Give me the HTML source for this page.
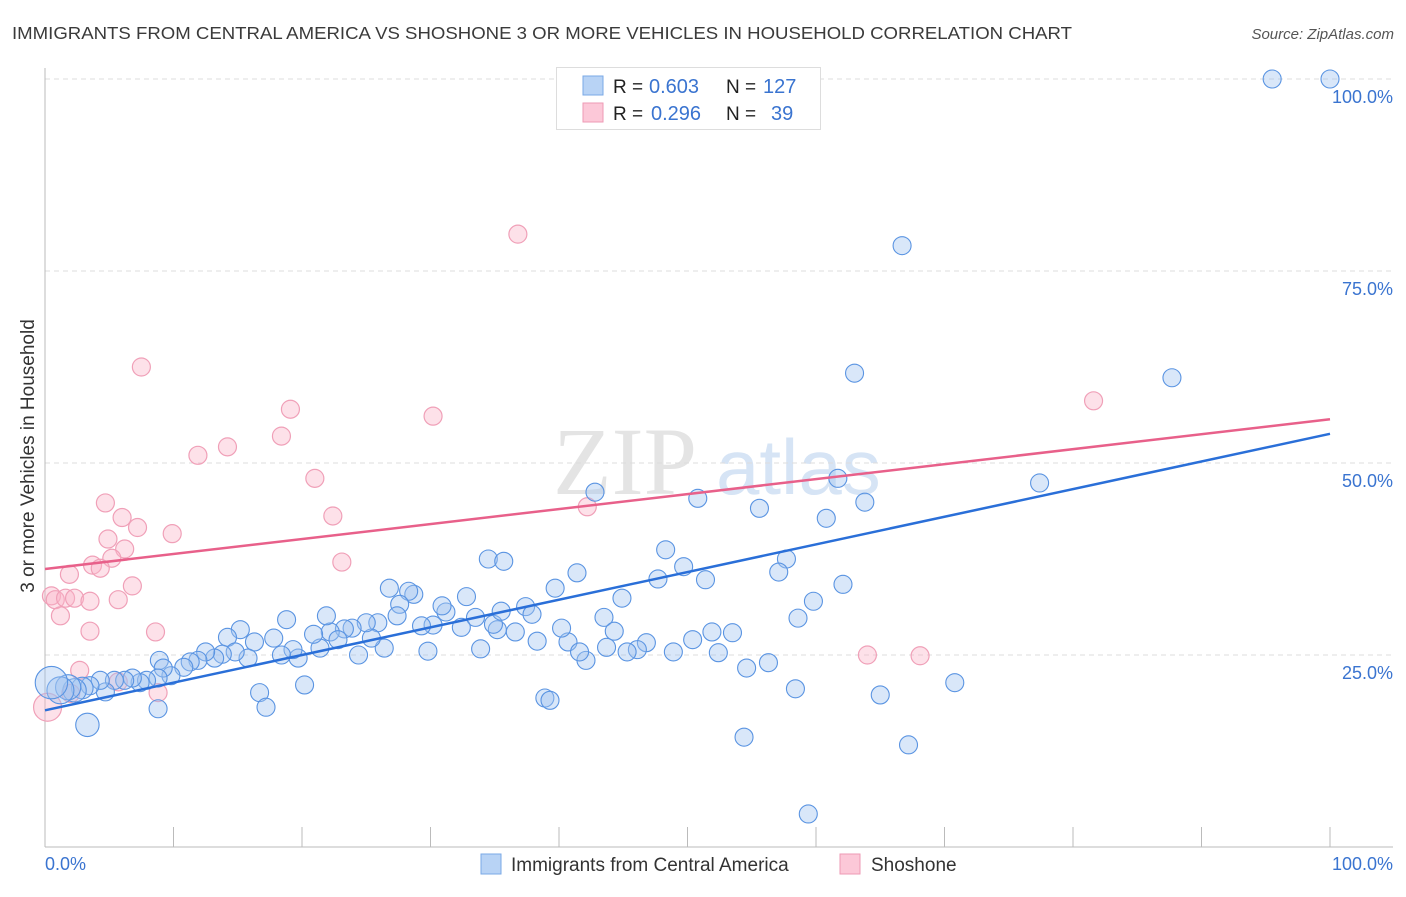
<!DOCTYPE html>
<html><head><meta charset="utf-8"><style>
body{margin:0;background:#fff;font-family:"Liberation Sans",sans-serif;}
svg text{font-family:"Liberation Sans",sans-serif;}
</style></head><body>
<svg id="chart" width="1406" height="892" xmlns="http://www.w3.org/2000/svg">
<text x="12" y="39" font-size="17.5" fill="#3a3a3a" textLength="1060" lengthAdjust="spacingAndGlyphs">IMMIGRANTS FROM CENTRAL AMERICA VS SHOSHONE 3 OR MORE VEHICLES IN HOUSEHOLD CORRELATION CHART</text>
<text x="1394" y="39" font-size="15" fill="#555" text-anchor="end" font-style="italic">Source: ZipAtlas.com</text>
<g>
<text x="553" y="494" font-size="96" fill="#e4e4e4" style="font-family:'Liberation Serif',serif">ZIP</text>
<text x="716" y="494" font-size="78" fill="#d6e4f5">atlas</text>
</g>
<g id="grid"></g>
<g id="axes"></g>
<g id="pts"></g>
<g id="lines"></g>
<text x="34" y="456" font-size="19" fill="#333" text-anchor="middle" transform="rotate(-90 34 456)">3 or more Vehicles in Household</text>
<g>
<rect x="556.5" y="67.5" width="264" height="62" fill="#fff" stroke="#ddd"/>
<rect x="583" y="76" width="20" height="19" fill="#b8d3f5" stroke="#7aa8e6"/>
<rect x="583" y="103" width="20" height="19" fill="#fcc8d8" stroke="#ee9ab4"/>
<text x="613" y="93" font-size="19" fill="#222">R =</text>
<text x="649" y="93" font-size="20" fill="#3a74d0">0.603</text>
<text x="726" y="93" font-size="19" fill="#222">N =</text>
<text x="763" y="93" font-size="20" fill="#3a74d0">127</text>
<text x="613" y="120" font-size="19" fill="#222">R =</text>
<text x="651" y="120" font-size="20" fill="#3a74d0">0.296</text>
<text x="726" y="120" font-size="19" fill="#222">N =</text>
<text x="771" y="120" font-size="20" fill="#3a74d0">39</text>
</g>
<g>
<rect x="481" y="854" width="20" height="20" fill="#b8d3f5" stroke="#7aa8e6"/>
<text x="511" y="871" font-size="19" fill="#333">Immigrants from Central America</text>
<rect x="840" y="854" width="20" height="20" fill="#fcc8d8" stroke="#ee9ab4"/>
<text x="871" y="871" font-size="19" fill="#333">Shoshone</text>
</g>
</svg>
<script>
const yTicks=[25,50,75,100];
const yTickLabels=["25.0%","50.0%","75.0%","100.0%"];
const blueX=[95.5,100,66.7,63.0,87.7,77.4,61.7,63.8,60.8,55.6,50.8,42.8,34.5,35.7,48.3,49.7,57.7,57.1,62.1,59.8,58.6,41.4,39.7,47.7,51.4,44.9,43.5,44.3,46.8,46.1,45.3,43.7,40.7,42.1,41.6,40.2,38.3,37.4,37.9,35.2,36.6,33.9,34.9,33.5,32.8,32.4,31.2,30.9,30.2,29.8,29.3,28.7,28.3,27.6,26.8,27.4,25.9,26.4,25.4,25.0,23.9,23.3,22.2,21.9,24.4,22.8,21.4,20.9,18.8,17.8,19.7,19.3,18.4,20.2,16.7,17.2,16.3,15.2,14.2,15.8,14.8,13.8,13.2,12.5,11.9,11.3,10.8,9.8,8.9,9.2,8.8,7.9,8.8,7.4,6.8,6.2,5.4,4.7,4.3,3.5,2.9,2.3,1.8,1.2,0.5,3.3,38.9,39.3,50.4,51.9,53.5,52.4,54.6,56.3,54.4,58.4,65.0,67.2,70.8,59.4,48.9,35.5];
const blueY=[100,100,78.3,61.7,61.1,47.4,48.0,44.9,42.8,44.1,45.4,46.2,37.5,37.2,38.7,36.5,37.5,35.8,34.2,32.0,29.8,35.7,33.7,34.9,34.8,32.4,29.9,28.1,26.6,25.7,25.4,26.0,26.7,24.3,25.4,28.5,26.8,31.3,30.3,28.3,28.0,25.8,29.0,29.9,32.6,28.6,30.6,31.4,28.9,25.5,28.8,32.9,33.3,31.6,33.7,30.1,29.2,25.9,27.2,29.2,28.5,28.4,28.0,30.1,25.0,27.0,25.9,27.7,29.6,27.2,24.6,25.7,25.0,21.1,20.1,18.2,26.7,28.3,27.3,24.6,25.4,25.1,24.6,25.4,24.3,24.1,23.4,22.3,24.3,23.3,22.0,21.7,18.0,21.4,22.0,21.7,21.7,20.2,21.7,21.0,20.7,20.4,20.8,20.4,21.4,15.9,19.4,19.1,27.0,28.0,27.9,25.3,23.3,24.0,14.3,20.6,19.8,13.3,21.4,4.3,25.4,30.7];
const blueSize=[1,1,1,1,1,1,1,1,1,1,1,1,1,1,1,1,1,1,1,1,1,1,1,1,1,1,1,1,1,1,1,1,1,1,1,1,1,1,1,1,1,1,1,1,1,1,1,1,1,1,1,1,1,1,1,1,1,1,1,1,1,1,1,1,1,1,1,1,1,1,1,1,1,1,1,1,1,1,1,1,1,1,1,1,1,1,1,1,1,1,1,1,1,1,1,1,1,1,1,1,1.2,1.3,1.4,1.5,1.8,1.3,1,1,1,1,1,1,1,1,1,1,1,1,1,1,1,1,1,1];
const pinkX=[36.8,7.5,19.1,30.2,81.6,18.4,14.2,11.9,21.0,4.7,22.4,6.0,42.2,7.2,9.9,4.9,6.2,5.2,23.1,3.7,4.3,1.9,6.8,0.5,0.8,1.6,2.3,3.5,5.7,1.2,3.5,8.6,64.0,68.1,2.7,8.8,0.2,5.7,2.0];
const pinkY=[79.8,62.5,57.0,56.1,58.1,53.5,52.1,51.0,48.0,44.8,43.1,42.9,44.3,41.6,40.8,40.1,38.8,37.6,37.1,36.7,36.3,35.5,34.0,32.7,32.2,32.4,32.4,32.0,32.2,30.1,28.1,28.0,25.0,24.9,23.0,20.1,18.2,21.5,20.0];
const blueTrend=[17.8,53.8];
const pinkTrend=[36.2,55.7];
const NS="http://www.w3.org/2000/svg";
const X0=45,X1=1330,Y0=847,Y100=79;
function xs(v){return X0+(X1-X0)*v/100;}
function ys(v){return Y0-(Y0-Y100)*v/100;}
function mk(tag,attrs,parent){const e=document.createElementNS(NS,tag);for(const k in attrs)e.setAttribute(k,attrs[k]);parent.appendChild(e);return e;}
const grid=document.getElementById('grid');
yTicks.forEach((t,i)=>{
 const l=mk('line',{x1:X0,x2:1393,y1:ys(t),y2:ys(t),stroke:'#ddd','stroke-dasharray':'5,4'},grid);
 
 
 const tx=mk('text',{x:1393,y:ys(t)+24,'font-size':18,fill:'#3a74d0','text-anchor':'end'},grid);
 tx.textContent=yTickLabels[i];
 
 
});
const axes=document.getElementById('axes');
mk('line',{x1:X0,x2:X0,y1:68,y2:Y0,stroke:'#bbb'},axes);
mk('line',{x1:X0,x2:1393,y1:Y0,y2:Y0,stroke:'#bbb'},axes);
for(let i=1;i<=10;i++){const t=mk('line',{x1:xs(i*10),x2:xs(i*10),y1:Y0,y2:Y0-20,stroke:'#bbb'},axes);
 
 }
const xl0=mk('text',{x:45,y:870,'font-size':18,fill:'#3a74d0'},axes);xl0.textContent='0.0%';


const xl1=mk('text',{x:1393,y:870,'font-size':18,fill:'#3a74d0','text-anchor':'end'},axes);xl1.textContent='100.0%';


const pts=document.getElementById('pts');
pinkX.forEach((x,i)=>{const c=mk('circle',{cx:xs(x),cy:ys(pinkY[i]),r:i==36?14:9,fill:'rgba(250,180,200,0.4)',stroke:'#f0a0b8','stroke-width':1.2},pts);
 
 });
blueX.forEach((x,i)=>{const c=mk('circle',{cx:xs(x),cy:ys(blueY[i]),r:9*blueSize[i],fill:'rgba(160,196,240,0.4)',stroke:'#5a94e2','stroke-width':1.1},pts);
 
 });
const lines=document.getElementById('lines');
const bl=mk('line',{x1:xs(0),y1:ys(blueTrend[0]),x2:xs(100),y2:ys(blueTrend[1]),stroke:'#2a6fd8','stroke-width':2.5},lines);


const pl=mk('line',{x1:xs(0),y1:ys(pinkTrend[0]),x2:xs(100),y2:ys(pinkTrend[1]),stroke:'#e8608a','stroke-width':2.5},lines);


</script>
</body></html>
